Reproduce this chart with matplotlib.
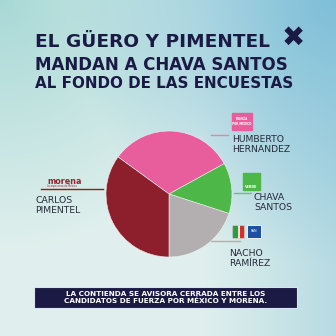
import numpy as np
import matplotlib
matplotlib.use("Agg")
import matplotlib.pyplot as plt
from matplotlib.patches import Rectangle

# datos (porcentaje aproximado por ángulo)
candidatos = ["HUMBERTO\nHERNANDEZ", "CHAVA\nSANTOS", "NACHO\nRAMÍREZ", "CARLOS\nPIMENTEL"]
valores = [32, 13, 20, 35]
colores = ["#e85d9c", "#4db848", "#b3afb0", "#8c1f2b"]

titulo = ["EL GÜERO Y PIMENTEL", "MANDAN A CHAVA SANTOS", "AL FONDO DE LAS ENCUESTAS"]
nota = "LA CONTIENDA SE AVISORA CERRADA ENTRE LOS\nCANDIDATOS DE FUERZA POR MÉXICO Y MORENA."

azul_oscuro = "#1b1a45"
W = H = 336

fig = plt.figure(figsize=(3.36, 3.36), dpi=100)
ax = fig.add_axes([0, 0, 1, 1])

# fondo degradado
xx, yy = np.meshgrid(np.linspace(0, 1, 200), np.linspace(0, 1, 200))
c_centro = np.array([0.88, 0.94, 0.93])
c_izq_arriba = np.array([0.66, 0.85, 0.84])
c_der_arriba = np.array([0.50, 0.75, 0.85])
c_der = np.array([0.68, 0.84, 0.88])
d1 = np.clip(1 - np.hypot(xx, 1 - yy) / 0.75, 0, 1)
d2 = np.clip(1 - np.hypot(1 - xx, 1 - yy) / 0.8, 0, 1)
d3 = np.clip((xx - 0.6) / 0.4, 0, 1) * 0.8
img = np.ones((200, 200, 3)) * c_centro
for w, c in [(d1, c_izq_arriba), (d3, c_der), (d2, c_der_arriba)]:
    img = img * (1 - w[..., None]) + c * w[..., None]
ax.imshow(img, extent=[0, W, 0, H], origin="lower", aspect="auto", zorder=0)

# título
tam = [13.3, 12.0, 10.9]
ys = [42, 65.5, 83.5]
for t, s, y in zip(titulo, tam, ys):
    ax.text(35, H - y, t, fontsize=s, fontweight="heavy", color=azul_oscuro,
            ha="left", va="center", family="DejaVu Sans")
ax.text(293, H - 38, "✖", fontsize=20, color=azul_oscuro, ha="center", va="center",
        family="DejaVu Sans")

# pastel
cx, cy, r = 169, H - 194, 63
ax.pie(valores, colors=colores, startangle=144, counterclock=False,
       center=(cx, cy), radius=r, frame=True,
       wedgeprops=dict(linewidth=0.4, edgecolor="#f0f0f0"))
ax.set_xlim(0, W)
ax.set_ylim(0, H)
ax.set_aspect("auto")
ax.axis("off")

lab = dict(fontsize=6.7, color="#262a3a", ha="left", va="top", linespacing=1.15,
           family="DejaVu Sans")

# Humberto
ax.plot([211, 228], [H - 135, H - 135], color="#d58aa8", lw=1)
ax.add_patch(Rectangle((232, H - 130), 20, 17, color="#e85d9c", zorder=3))
ax.text(242, H - 121.5, "FUERZA\nPOR MÉXICO", fontsize=2, color="white", ha="center",
        va="center", fontweight="bold", zorder=4)
ax.text(232, H - 135, candidatos[0], **lab)

# Chava
ax.plot([234, 251], [H - 193, H - 193], color="#7fb87c", lw=1)
ax.add_patch(Rectangle((243, H - 190), 17, 17, color="#4db848", zorder=3))
ax.text(251.5, H - 186.5, "VERDE", fontsize=2.4, color="white", ha="center",
        va="center", fontweight="bold", zorder=4)
ax.text(254, H - 193, candidatos[1], **lab)

# Nacho
ax.plot([211, 240], [H - 241, H - 241], color="#b3afb0", lw=1)
ax.add_patch(Rectangle((232, H - 238), 12, 13, facecolor="white", edgecolor="#bbbbbb",
                       lw=0.4, zorder=3))
ax.add_patch(Rectangle((233, H - 237), 3.5, 11, color="#2e9a45", zorder=4))
ax.add_patch(Rectangle((239.5, H - 237), 3.5, 11, color="#d32f2f", zorder=4))
ax.add_patch(Rectangle((247, H - 238), 14, 13, facecolor="#1f4fa0", edgecolor="white",
                       lw=0.6, zorder=3))
ax.text(254, H - 231.5, "PAN", fontsize=2.4, color="white", ha="center", va="center",
        zorder=4)
ax.text(229, H - 249, candidatos[2], **lab)

# Carlos
ax.plot([41, 103], [H - 189, H - 189], color="#8c1f2b", lw=1)
ax.text(47, H - 181, "morena", fontsize=5.8, color="#9b2030", fontweight="bold",
        ha="left", va="center")
ax.text(47, H - 186, "La esperanza de México", fontsize=1.8, color="#9b2030",
        ha="left", va="center")
ax.text(35, H - 196, candidatos[3], **lab)

# nota inferior
ax.add_patch(Rectangle((34, H - 308), 263, 21, facecolor=azul_oscuro,
                       edgecolor="#d8e4ee", lw=0.8, zorder=3))
ax.text(165.5, H - 297.5, nota, fontsize=5.2, color="white", fontweight="bold",
        ha="center", va="center", linespacing=1.1, zorder=4)

fig.savefig("out.png", dpi=100)
